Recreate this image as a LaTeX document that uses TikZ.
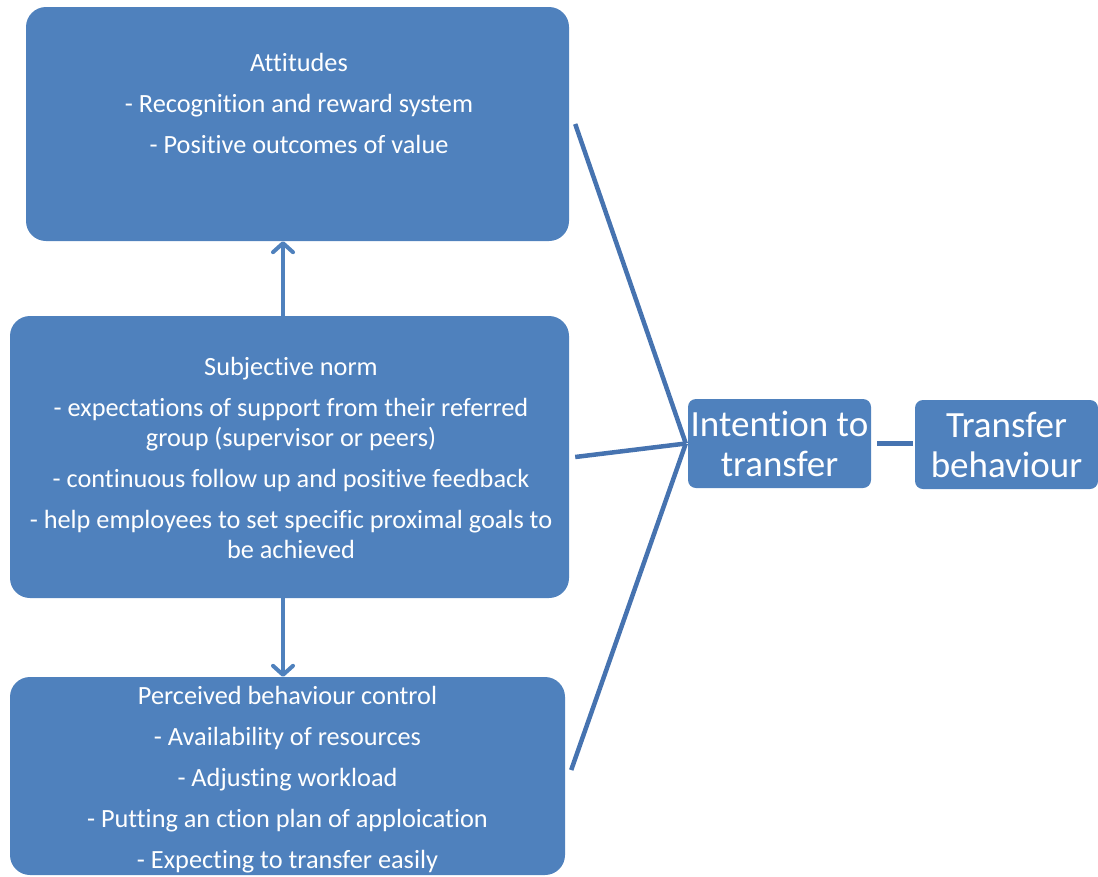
\documentclass[tikz,border=0pt]{standalone}
\usepackage{fontspec}
\setmainfont{Carlito}[Ligatures=NoCommon]
\usetikzlibrary{arrows.meta}
\definecolor{boxblue}{HTML}{4F81BD}
\definecolor{linkblue}{HTML}{4673B0}
\begin{document}
\begin{tikzpicture}[x=1pt,y=-1pt,
  box/.style={rectangle, rounded corners=20pt, fill=boxblue, inner sep=0pt},
  smallbox/.style={rectangle, rounded corners=8pt, fill=boxblue, inner sep=0pt},
  boxtext/.style={text=white, align=center, font=\fontsize{26.3}{30}\selectfont, inner sep=0pt},
  bigtext/.style={text=white, align=center, font=\fontsize{37}{40}\selectfont, inner sep=0pt},
  link/.style={draw=linkblue, line width=4.5pt},
  arr/.style={draw=boxblue, line width=4pt, line cap=round,
    -{Straight Barb[length=9pt,width=20pt,round]}}
]
\useasboundingbox (0,0) rectangle (1098,876);

% boxes
\node[box, minimum width=543pt, minimum height=234pt] (att) at (297.5,124) {};
\node[box, minimum width=559pt, minimum height=282pt] (sub) at (289.5,457) {};
\node[box, minimum width=555pt, minimum height=198pt] (perc) at (287.5,776) {};
\node[smallbox, minimum width=183pt, minimum height=89pt] (int) at (779.5,443.5) {};
\node[smallbox, minimum width=183pt, minimum height=89pt] (trans) at (1006.5,444.5) {};

% box texts
\node[boxtext] (attText) at (299,103) {Attitudes\\[11pt]
  - Recognition and reward system\\[11pt]
  - Positive outcomes of value};
\node[boxtext] (subText) at (291,457.5) {Subjective norm\\[11pt]
  - expectations of support from their referred\\
  group (supervisor or peers)\\[11pt]
  - continuous follow up and positive feedback\\[11pt]
  - help employees to set specific proximal goals to\\
  be achieved};
\node[boxtext] (percText) at (287.5,780) {Perceived behaviour control\\[11pt]
  - Availability of resources\\[11pt]
  - Adjusting workload\\[11pt]
  - Putting an ction plan of apploication\\[11pt]
  - Expecting to transfer easily};
\node[bigtext] (intText) at (int) {Intention to\\transfer};
\node[bigtext] (transText) at (trans) {Transfer\\behaviour};

% connectors to the intention box
\coordinate (meet) at ([xshift=-2pt]int.west);
\draw[link] ([xshift=6pt]att.east) -- (meet);
\draw[link] ([xshift=6pt]sub.east) -- (meet);
\draw[link] ([xshift=6pt,yshift=6pt]perc.east) -- (meet);
\draw[link] ([xshift=6pt]int.east) -- ([xshift=-2pt,yshift=1pt]trans.west);

% arrows between the stacked boxes
\coordinate (ax) at (283,0);
\draw[arr] (ax |- sub.north) -- (ax |- att.south);
\draw[arr] (ax |- sub.south) -- (ax |- perc.north);
\end{tikzpicture}
\end{document}
